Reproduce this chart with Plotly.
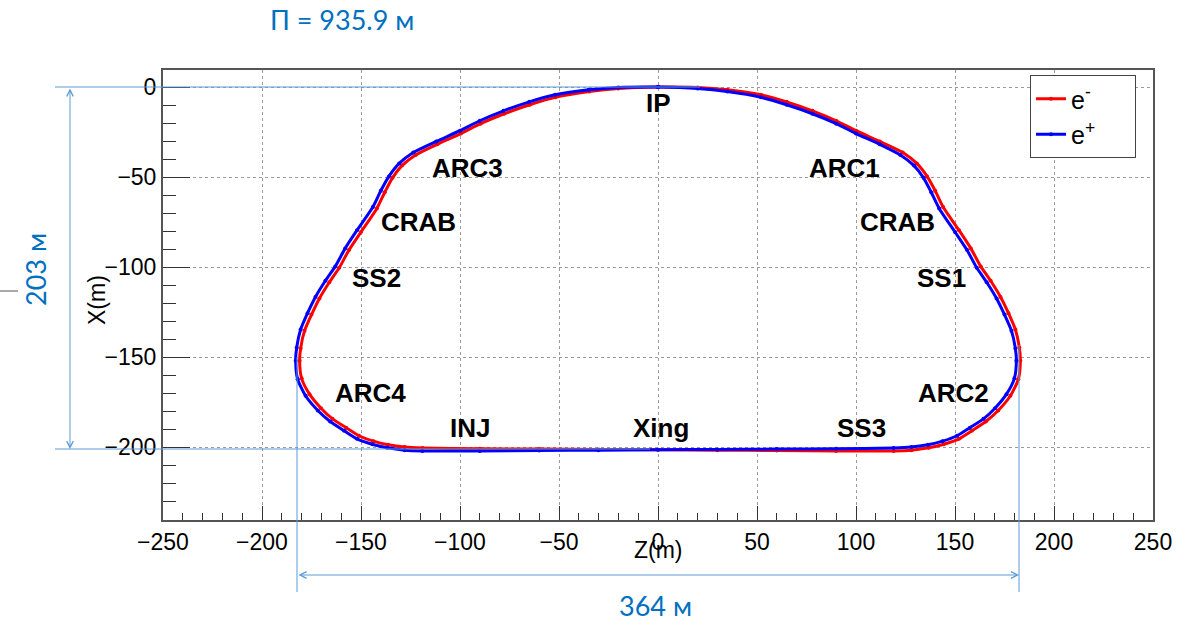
import plotly.graph_objects as go

# ---------------- data ----------------
# e- beam (red): clockwise from IP, outside on the right half, inside on the left half
em_z = [0, 20, 35, 52, 65, 78, 90, 100, 112, 123.6, 130.7, 135.9, 140, 144, 152, 158, 163, 168, 173, 177,
        180.5, 182.5, 183, 182, 178, 171.8, 165.6, 158.5, 152, 144.3, 136.7, 128, 119, 90, 60, 30, 0,
        -30, -60, -90, -119, -128, -136.3, -143.7, -151, -157.5, -164.4, -170.2, -176, -180, -181,
        -180.5, -178.5, -175, -171, -166, -161, -156, -150, -142, -138, -134.1, -129.3, -122.4, -111.5,
        -99.6, -89.6, -77.7, -64.8, -51.8, -34.8, -20, 0]
em_x = [0, -0.2, -1.5, -4.3, -8.2, -13.2, -18.7, -24.2, -30.2, -36.3, -42.4, -49.6, -57.6, -66.6, -79.5,
        -89.6, -99.6, -107.6, -116.6, -125.6, -134.7, -144.8, -152, -162.3, -171.5, -179.7, -185.8,
        -190.9, -195.4, -198.4, -200.4, -201.7, -202.1, -202.1, -201.9, -201.7, -201.5,
        -201.3, -201.1, -200.9, -200.5, -200, -198.7, -196.7, -193.7, -189.2, -184.3, -178.4, -170.6,
        -161.8, -152, -145.2, -135.3, -126.4, -117.4, -108.4, -100.4, -90.4, -80.5, -67.4, -58.4, -50.4,
        -43.6, -37.7, -31.8, -25.8, -20.3, -14.8, -9.8, -5.7, -2.5, -0.8, 0]

# e+ beam (blue): inside on the right half, outside on the left half
ep_z = [0, 20, 35, 52, 65, 78, 90, 100, 112, 122.4, 129.3, 134.1, 138, 142, 150, 156, 161, 166, 171, 175,
        178.5, 180.5, 181, 180, 176, 170.2, 164.4, 157.5, 151, 143.7, 136.3, 128, 119, 90, 60, 30, 0,
        -30, -60, -90, -119, -128, -136.7, -144.3, -152, -158.5, -165.6, -171.8, -178, -182, -183,
        -182.5, -180.5, -177, -173, -168, -163, -158, -152, -144, -140, -135.9, -130.7, -123.6, -112,
        -100, -90, -78, -65, -52, -35, -20, 0]
ep_x = [0, -0.8, -2.5, -5.7, -9.8, -14.8, -20.3, -25.8, -31.8, -37.7, -43.6, -50.4, -58.4, -67.4, -80.5,
        -90.4, -100.4, -108.4, -117.4, -126.4, -135.3, -145.2, -152, -161.8, -170.6, -178.4, -184.3,
        -189.2, -193.7, -196.7, -198.7, -200, -200.5, -200.9, -201.1, -201.3, -201.5,
        -201.7, -201.9, -202.1, -202.1, -201.7, -200.4, -198.4, -195.4, -190.9, -185.8, -179.7, -171.5,
        -162.3, -152, -144.8, -134.7, -125.6, -116.6, -107.6, -99.6, -89.6, -79.5, -66.6, -57.6, -49.6,
        -42.4, -36.3, -30.2, -24.2, -18.7, -13.2, -8.2, -4.3, -1.5, -0.2, 0]

section_names = ["IP", "ARC1", "ARC3", "CRAB", "CRAB", "SS1", "SS2", "ARC2", "ARC4", "INJ", "Xing", "SS3"]
section_z = [0, 94, -96, 121, -121, 143, -142, 149, -145, -95, 1.5, 103]
section_x = [-9, -45, -45, -75, -75, -106, -106, -170, -170, -189.5, -189.5, -189.5]

x_range = [-250, 250]
y_range = [-240.5, 9.5]
x_ticks = [-250, -200, -150, -100, -50, 0, 50, 100, 150, 200, 250]
y_ticks = [-200, -150, -100, -50, 0]

perimeter_text = "П = 935.9 м"
width_text = "364 м"
height_text = "203 м"

# ---------------- figure ----------------
W, H = 1201, 623
ML, MR, MT, MB = 163, 48, 70, 103
PW, PH = W - ML - MR, H - MT - MB


def px(x):
    return (x - ML) / PW


def py(y):
    return (H - MB - y) / PH


PAD = "\u00a0" * 5

fig = go.Figure()
fig.add_trace(go.Scatter(x=em_z, y=em_x, mode="lines+markers", name="e<sup>-</sup>" + PAD,
                         line=dict(color="#ff0000", width=3, shape="spline", smoothing=0.6),
                         marker=dict(color="#ff0000", size=4)))
fig.add_trace(go.Scatter(x=ep_z, y=ep_x, mode="lines+markers", name="e<sup>+</sup>" + PAD,
                         line=dict(color="#0000ff", width=3, shape="spline", smoothing=0.6),
                         marker=dict(color="#0000ff", size=4)))

axis_common = dict(showgrid=True, gridcolor="#9a9a9a", griddash="dot", gridwidth=1,
                   zeroline=False, showline=True, linecolor="#555555", linewidth=2, mirror=True,
                   ticks="inside", tickcolor="#333333", tickwidth=1,
                   tickfont=dict(family="Liberation Sans", size=23, color="black"))

fig.update_xaxes(range=x_range, tickvals=x_ticks, ticklen=14,
                 minor=dict(dtick=10, ticks="inside", ticklen=7, tickcolor="#333333", showgrid=False),
                 **axis_common)
fig.update_yaxes(range=y_range, tickvals=y_ticks, ticklen=27,
                 minor=dict(dtick=10, ticks="inside", ticklen=13, tickcolor="#333333", showgrid=False),
                 **axis_common)

annotations = []
for name, z, x in zip(section_names, section_z, section_x):
    annotations.append(dict(x=z, y=x, xref="x", yref="y", text="<b>%s</b>" % name, showarrow=False,
                            font=dict(family="Liberation Sans", size=26, color="black"),
                            xanchor="center", yanchor="middle"))

# axis titles (ROOT-style placement)
annotations.append(dict(x=0.5, y=py(550), xref="paper", yref="paper", text="Z(m)", showarrow=False,
                        font=dict(family="Liberation Sans", size=23, color="black"),
                        xanchor="center", yanchor="middle"))
annotations.append(dict(x=px(97), y=py(300), xref="paper", yref="paper", text="X(m)", showarrow=False,
                        textangle=-90, font=dict(family="Liberation Sans", size=23, color="black"),
                        xanchor="center", yanchor="middle"))

blue_txt = "#0070c0"
line_blue = "#5b9bd5"
annotations.append(dict(x=px(342), y=py(20), xref="paper", yref="paper", text=perimeter_text,
                        showarrow=False, font=dict(family="Lato", size=27, color=blue_txt),
                        xanchor="center", yanchor="middle"))
annotations.append(dict(x=px(655), y=py(605), xref="paper", yref="paper", text=width_text,
                        showarrow=False, font=dict(family="Lato", size=27, color=blue_txt),
                        xanchor="center", yanchor="middle"))
annotations.append(dict(x=px(35), y=py(270), xref="paper", yref="paper", text=height_text,
                        showarrow=False, textangle=-90, font=dict(family="Lato", size=27, color=blue_txt),
                        xanchor="center", yanchor="middle"))

# double-headed dimension arrows (tail offsets in pixels)
annotations.append(dict(x=px(1019), y=py(575), xref="paper", yref="paper", ax=297 - 1019, ay=0,
                        axref="pixel", ayref="pixel", text="", showarrow=True, arrowside="end+start",
                        arrowhead=5, startarrowhead=5, arrowsize=1.3, startarrowsize=1.3,
                        arrowwidth=1, arrowcolor=line_blue))
annotations.append(dict(x=px(70), y=py(449), xref="paper", yref="paper", ax=0, ay=87 - 449,
                        axref="pixel", ayref="pixel", text="", showarrow=True, arrowside="end+start",
                        arrowhead=5, startarrowhead=5, arrowsize=1.3, startarrowsize=1.3,
                        arrowwidth=1, arrowcolor=line_blue))

shapes = [
    dict(type="line", xref="paper", yref="paper", x0=px(55), x1=px(700), y0=py(87), y1=py(87),
         line=dict(color=line_blue, width=1)),
    dict(type="line", xref="paper", yref="paper", x0=px(55), x1=px(650), y0=py(449), y1=py(449),
         line=dict(color=line_blue, width=1)),
    dict(type="line", xref="paper", yref="paper", x0=px(297), x1=px(297), y0=py(357), y1=py(592),
         line=dict(color=line_blue, width=1)),
    dict(type="line", xref="paper", yref="paper", x0=px(1019), x1=px(1019), y0=py(345), y1=py(592),
         line=dict(color=line_blue, width=1)),
    dict(type="line", xref="paper", yref="paper", x0=px(0), x1=px(18), y0=py(291), y1=py(291),
         line=dict(color="#555555", width=1)),
]

fig.update_layout(
    width=W, height=H,
    margin=dict(l=ML, r=MR, t=MT, b=MB, pad=0),
    paper_bgcolor="white", plot_bgcolor="white",
    showlegend=True,
    legend=dict(x=px(1030), y=py(75), xanchor="left", yanchor="top",
                bgcolor="white", bordercolor="#444444", borderwidth=1,
                font=dict(family="Liberation Sans", size=25, color="black"),
                itemwidth=30, tracegroupgap=0),
    annotations=annotations,
    shapes=shapes,
)

fig.write_html("out.html")
